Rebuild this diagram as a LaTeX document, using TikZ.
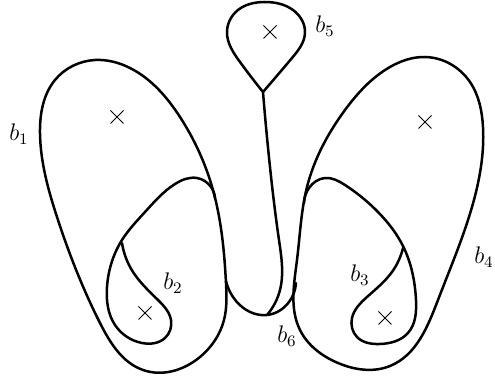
\documentclass[tikz,border=0pt]{standalone}
\usetikzlibrary{hobby}
\begin{document}
\begin{tikzpicture}[x=0.5pt,y=-0.5pt,
  curve/.style={line width=1.25pt, line join=round, line cap=round, use Hobby shortcut},
  crossmark/.style={line width=0.5pt},
  lab/.style={font=\fontsize{11.5}{13}\selectfont, inner sep=0pt}]
\useasboundingbox (0,0) rectangle (495,379);
% b1 outer loop
\draw[curve, closed=true] (226,283) .. (213,190) .. (180,117) .. (130,68) .. (95,60)
 .. (55,80) .. (40,133) .. (57,217) .. (100,323) .. (143,370) .. (200,357) .. (224,320);
% b4 outer loop
\draw[curve, closed=true] (425,57) .. (470,82) .. (483,127) .. (472,207) .. (438,300)
 .. (390,366) .. (338,363) .. (300,330) .. (297,260) .. (307,187) .. (345,110) .. (390,67);
% b2
\draw[curve] (215,198) .. (211,187) .. (197,178) .. (175,184) .. (145,212) .. (122,240)
 .. (107,287) .. (115,325) .. (142,343) .. (165,338) .. (171,320) .. (158,300) .. (133,272) .. (122,243);
% b3
\draw[curve] (304,203) .. (309,188) .. (325,178) .. (345,185) .. (378,212) .. (403,246)
 .. (416,300) .. (408,333) .. (380,344) .. (357,337) .. (352,318) .. (367,297) .. (392,272) .. (403,248);
% b6 bottom U
\draw[curve] (226,281) .. (236,301) .. (267,315) .. (289,302) .. (296,283);
% stem
\draw[curve] (263,92) .. (270,167) .. (279,240) .. (280,290) .. (267,315);
% b5 teardrop
\draw[curve] (263,92) .. (240,62) .. (227,32) .. (238,10) .. (265,2) .. (293,10)
 .. (305,33) .. (292,58) .. (263,92);
% crosses
\foreach \p in {(117,117),(145,313),(385,318),(425,122),(270,32)}{
  \draw[crossmark] \p ++(-6.5,-6.5) -- ++(13,13);
  \draw[crossmark] \p ++(-6.5,6.5) -- ++(13,-13);
}
% labels
\node[lab] (l1) at (19,134) {$b_1$};
\node[lab] (l2) at (173,283) {$b_2$};
\node[lab] (l3) at (360,275) {$b_3$};
\node[lab] (l4) at (484,257) {$b_4$};
\node[lab] (l5) at (325,26) {$b_5$};
\node[lab] (l6) at (287,336) {$b_6$};
\end{tikzpicture}
\end{document}
